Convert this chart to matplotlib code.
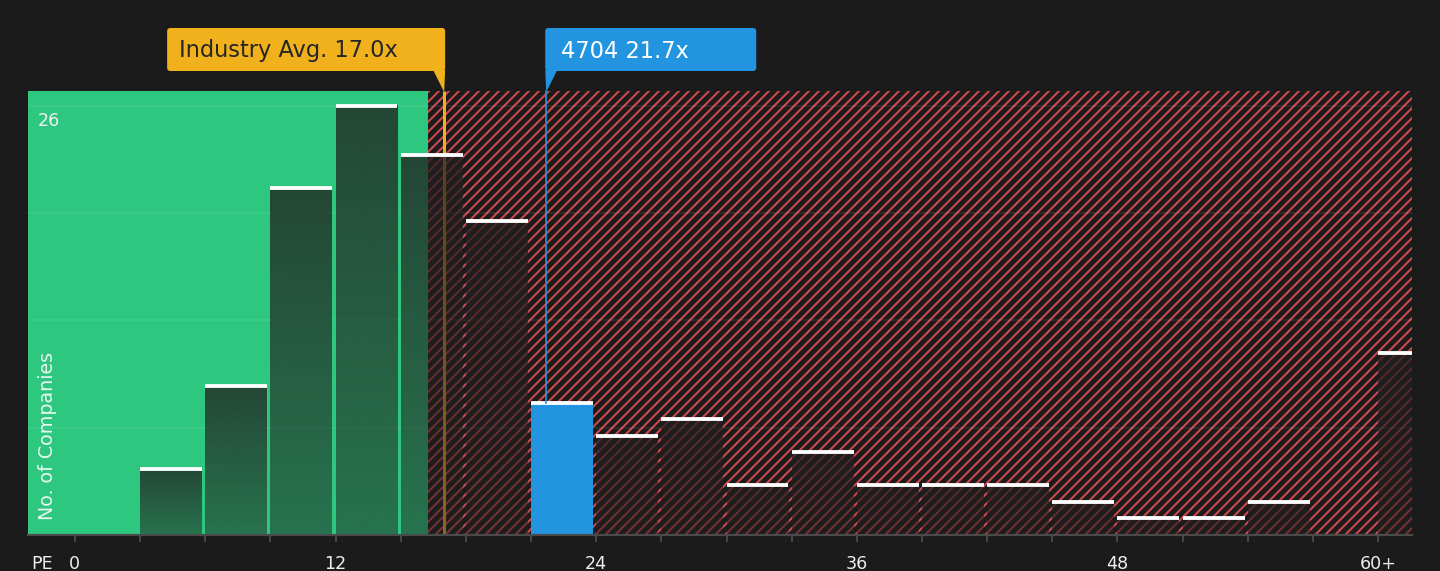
import numpy as np
import matplotlib
matplotlib.use('Agg')
import matplotlib.pyplot as plt
from matplotlib.patches import Rectangle, FancyBboxPatch, Polygon
from matplotlib.transforms import IdentityTransform, blended_transform_factory

# PE histogram data (bin start, company count); last bin is "60+"
bin_starts = [0, 3, 6, 9, 12, 15, 18, 21, 24, 27, 30, 33, 36, 39, 42, 45, 48, 51, 54, 57, 60]
counts = [0, 4, 9, 21, 26, 23, 19, 8, 6, 7, 3, 5, 3, 3, 3, 2, 1, 1, 2, 0, 11]
tick_vals = [0, 12, 24, 36, 48, 60]
tick_labels = ['0', '12', '24', '36', '48', '60+']
industry_avg = 17.0
company_pe = 21.7
company_name = '4704'
fair_pe = 16.25

BG = '#1b1b1b'
GREEN = '#2ec77f'
RED = '#cc484c'
ORANGE = '#f0b11d'
BLUE = '#2394e0'
DARK = np.array([33, 30, 30]) / 255.0

W, H, DPI = 1440, 571, 120
plt.rcParams['hatch.linewidth'] = 1.25

def main():
    fig = plt.figure(figsize=(W / DPI, H / DPI), dpi=DPI, facecolor=BG)
    ax = fig.add_axes([28 / W, 36 / H, 1384 / W, 444 / H])
    ax.set_facecolor(BG)
    x_lo, x_hi = -2.16, 61.56
    y_top = 26.9
    bw = 2.85

    # background zones
    ax.axvspan(x_lo, fair_pe, color=GREEN, lw=0, zorder=1)
    ax.axvspan(fair_pe, x_hi + 5, facecolor='none', edgecolor=RED, hatch='////', lw=0, zorder=1)

    # faint grid
    ymax = max(counts)
    for g in [ymax / 4, ymax / 2, 3 * ymax / 4, ymax]:
        ax.axhline(g, color='white', alpha=0.09, lw=0.9, zorder=2)

    # industry average line (behind bars)
    ax.plot([industry_avg, industry_avg], [0, y_top], color=ORANGE, lw=1.8,
            zorder=2.5, clip_on=False, solid_capstyle='butt')

    # bars
    n = 64
    alpha = np.linspace(0.5, 0.76, n)
    for b, c in zip(bin_starts, counts):
        if c == 0:
            continue
        if b <= company_pe < b + 3:
            ax.add_patch(Rectangle((b, 0), bw, c, facecolor=BLUE, lw=0, zorder=4))
        else:
            rgba = np.zeros((n, 1, 4))
            rgba[..., :3] = DARK
            rgba[:, 0, 3] = alpha
            ax.imshow(rgba, extent=[b, b + bw, 0, c], origin='lower', aspect='auto',
                      interpolation='bilinear', zorder=3)
        ax.plot([b, b + bw], [c, c], color='white', lw=2.3, solid_capstyle='butt', zorder=5)

    # company line
    comp_count = counts[bin_starts.index(int(company_pe // 3 * 3))]
    ax.plot([company_pe, company_pe], [comp_count, y_top], color=BLUE, lw=1.0,
            zorder=6, clip_on=False)

    ax.set_xlim(x_lo, x_hi)
    ax.set_ylim(0, y_top)

    for s in ['left', 'right', 'top']:
        ax.spines[s].set_visible(False)
    ax.spines['bottom'].set_color('#4a4a4a')
    ax.spines['bottom'].set_linewidth(1.3)
    ax.spines['bottom'].set_zorder(7)
    ax.set_yticks([])
    ax.set_xticks(tick_vals)
    ax.set_xticklabels(tick_labels)
    ax.set_xticks(bin_starts, minor=True)
    ax.tick_params(axis='x', which='both', colors='#4f4f4f', length=4.2, width=1.0,
                   labelcolor='#eeeeee', labelsize=10.5, pad=7.6)

    # y labels
    bt = blended_transform_factory(ax.transAxes, ax.transData)
    ax.text(10 / 1384, ymax - 0.9, str(ymax), transform=bt, color='#f2f2f2',
            fontsize=10.5, ha='left', va='center', zorder=8)
    ax.text(20 / 1384, 0.9, 'No. of Companies', transform=bt, color='white', alpha=0.88,
            fontsize=11.4, rotation=90, ha='center', va='bottom', zorder=8)
    fig.text(42 / W, 7 / H, 'PE', color='#eeeeee', fontsize=10.5, ha='center', va='center')

    # callout boxes
    fig.canvas.draw()
    ind_x = ax.transData.transform((industry_avg, 0))[0]
    pe_x = ax.transData.transform((company_pe, 0))[0]
    box_b, box_t, tip_y = H - 71, H - 28, H - 92
    ident = IdentityTransform()
    txt_y = H - 51

    right = ind_x + 1
    left = right - 278
    fig.patches.append(FancyBboxPatch((left, box_b), right - left, box_t - box_b,
                                      boxstyle='round,pad=0,rounding_size=3',
                                      facecolor=ORANGE, lw=0, transform=ident, figure=fig))
    fig.patches.append(Polygon([(right - 12, box_b + 1), (right, box_b + 1), (ind_x, tip_y)],
                               closed=True, facecolor=ORANGE, lw=0, transform=ident, figure=fig))
    fig.text(left + 12, txt_y, 'Industry Avg. %.1fx' % industry_avg,
             transform=ident, color='#262626', fontsize=13.5, ha='left', va='center')

    left = pe_x - 1
    right = left + 211
    fig.patches.append(FancyBboxPatch((left, box_b), right - left, box_t - box_b,
                                      boxstyle='round,pad=0,rounding_size=3',
                                      facecolor=BLUE, lw=0, transform=ident, figure=fig))
    fig.patches.append(Polygon([(left, box_b + 1), (left + 12, box_b + 1), (pe_x, tip_y)],
                               closed=True, facecolor=BLUE, lw=0, transform=ident, figure=fig))
    fig.text(left + 16, txt_y, '%s %.1fx' % (company_name, company_pe),
             transform=ident, color='white', fontsize=13.5, ha='left', va='center')

    fig.savefig('out.png', dpi=DPI, facecolor=BG)
    plt.close(fig)

if __name__ == '__main__':
    main()
